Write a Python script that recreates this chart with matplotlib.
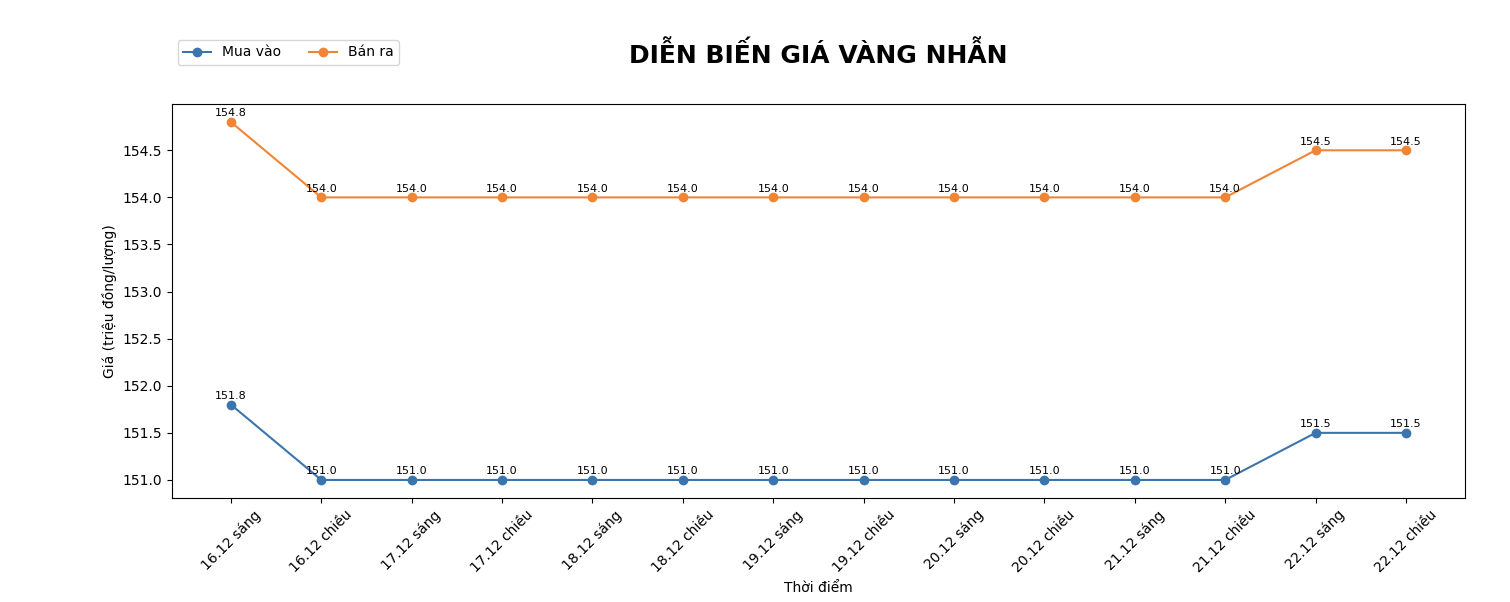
import matplotlib
matplotlib.use("Agg")
import matplotlib.pyplot as plt

labels = ["16.12 sáng","16.12 chiều","17.12 sáng","17.12 chiều","18.12 sáng","18.12 chiều",
          "19.12 sáng","19.12 chiều","20.12 sáng","20.12 chiều","21.12 sáng","21.12 chiều",
          "22.12 sáng","22.12 chiều"]
mua_vao = [151.8,151.0,151.0,151.0,151.0,151.0,151.0,151.0,151.0,151.0,151.0,151.0,151.5,151.5]
ban_ra = [154.8,154.0,154.0,154.0,154.0,154.0,154.0,154.0,154.0,154.0,154.0,154.0,154.5,154.5]

fig = plt.figure(figsize=(15.1, 6.02), dpi=100)
ax = fig.add_axes([0.114, 0.173, 0.856, 0.654])
x = list(range(len(labels)))
l1, = ax.plot(x, mua_vao, marker='o', color='#3a75ae', label='Mua vào')
l2, = ax.plot(x, ban_ra, marker='o', color='#ef8636', label='Bán ra')
for xi, v in zip(x, mua_vao):
    ax.annotate(f"{v:.1f}", (xi, v), textcoords='offset points', xytext=(0, 4), ha='center', fontsize=8)
for xi, v in zip(x, ban_ra):
    ax.annotate(f"{v:.1f}", (xi, v), textcoords='offset points', xytext=(0, 4), ha='center', fontsize=8)
ax.set_xticks(x)
ax.set_xticklabels(labels, rotation=45)
ax.set_xlabel("Thời điểm")
ax.set_ylabel("Giá (triệu đồng/lượng)")
fig.text(0.542, 0.91, "DIỄN BIẾN GIÁ VÀNG NHẪN", ha='center', va='center', fontsize=18, fontweight='bold')
fig.legend(handles=[l1, l2], loc='center left', bbox_to_anchor=(0.113, 0.913), ncol=2, fontsize=10)
fig.savefig("out.png", dpi=100)
